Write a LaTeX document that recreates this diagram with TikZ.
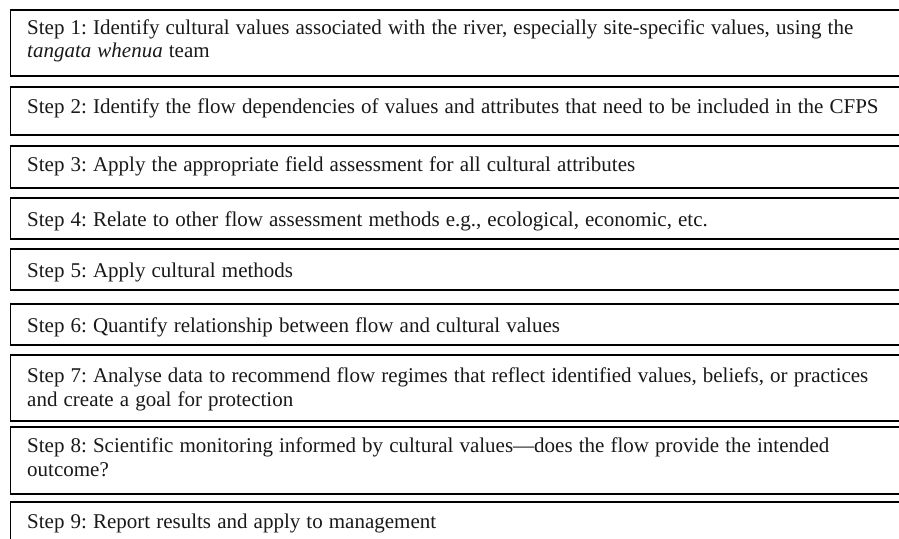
\documentclass[tikz,border=0pt]{standalone}
\usepackage{fontspec}
\setmainfont{Liberation Serif}
\frenchspacing
\begin{document}
\begin{tikzpicture}[x=1pt,y=1pt,
  stepbox/.style={draw=black, line width=1.6pt, fill=white, anchor=north west, minimum width=905pt, inner sep=0pt},
  steptext/.style={anchor=base west, inner sep=0pt, text width=870pt, align=left, font=\fontsize{21}{24}\selectfont, text=black!90,
    execute at begin node={\spaceskip=6.1pt plus 1pt minus 1pt\xspaceskip=6.1pt\relax}}]
\useasboundingbox (0,0) rectangle (899,-538);
\clip (0,0) rectangle (899,-538);
% boxes
\node[stepbox, minimum height=66pt] (b1) at (9.5,-9) {};
\node[stepbox, minimum height=48pt] (b2) at (9.5,-86) {};
\node[stepbox, minimum height=42pt] (b3) at (9.5,-145) {};
\node[stepbox, minimum height=41pt] (b4) at (9.5,-197) {};
\node[stepbox, minimum height=41pt] (b5) at (9.5,-248) {};
\node[stepbox, minimum height=41pt] (b6) at (9.5,-303) {};
\node[stepbox, minimum height=66pt] (b7) at (9.5,-354) {};
\node[stepbox, minimum height=67pt] (b8) at (9.5,-426) {};
\node[stepbox, minimum height=60pt] (b9) at (9.5,-501) {};
% texts
\node[steptext] (t1) at (27,-34) {Step 1: Identify cultural values associated with the river, especially site-specific values, using the\\ \textit{tangata whenua} team};
\node[steptext] (t2) at (27,-113) {Step 2: Identify the flow dependencies of values and attributes that need to be included in the CFPS};
\node[steptext] (t3) at (27,-171) {Step 3: Apply the appropriate field assessment for all cultural attributes};
\node[steptext] (t4) at (27,-226) {Step 4: Relate to other flow assessment methods e.g., ecological, economic, etc.};
\node[steptext] (t5) at (27,-277) {Step 5: Apply cultural methods};
\node[steptext] (t6) at (27,-332) {Step 6: Quantify relationship between flow and cultural values};
\node[steptext] (t7) at (27,-382) {Step 7: Analyse data to recommend flow regimes that reflect identified values, beliefs, or practices\\ and create a goal for protection};
\node[steptext] (t8) at (27,-452) {Step 8: Scientific monitoring informed by cultural values---does the flow provide the intended\\ outcome?};
\node[steptext] (t9) at (27,-528) {Step 9: Report results and apply to management};
\end{tikzpicture}
\end{document}
